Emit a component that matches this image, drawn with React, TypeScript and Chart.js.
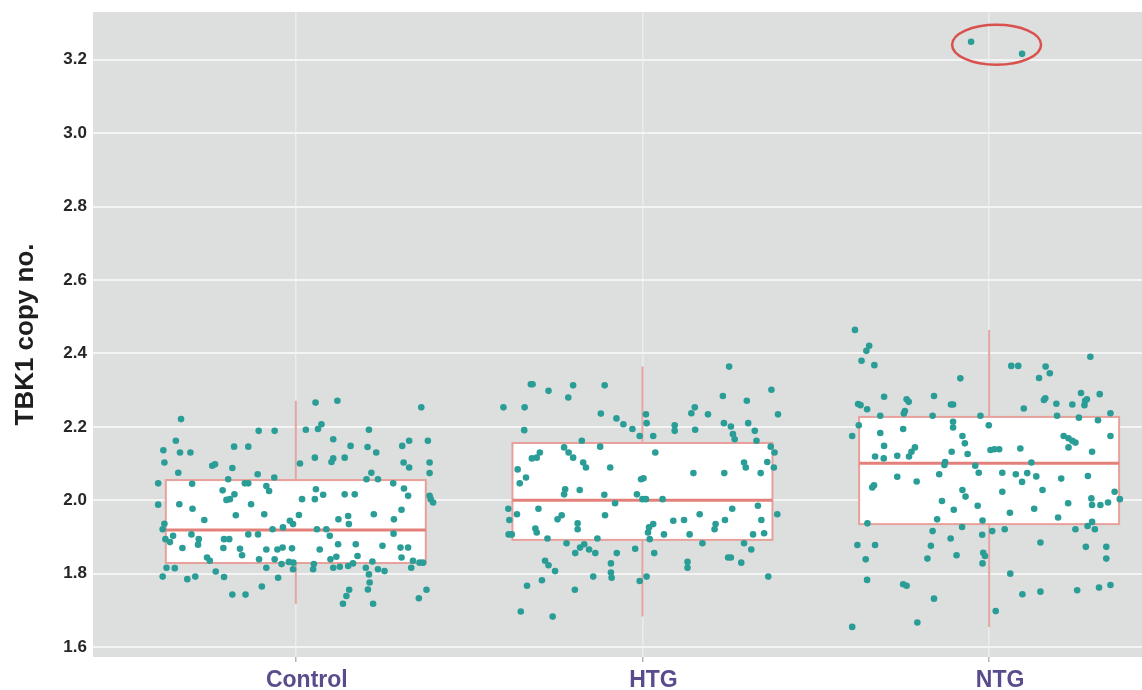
import React, { useEffect, useRef } from "react";
import { Chart, registerables } from "chart.js";

Chart.register(...registerables);

// ---------- data ----------
const CATEGORIES = ["Control", "HTG", "NTG"];
const Y_TICKS = [1.6, 1.8, 2.0, 2.2, 2.4, 2.6, 2.8, 3.0, 3.2];

// box-plot statistics per category
const Q1 = [1.829, 1.892, 1.935];
const MEDIAN = [1.919, 2.0, 2.101];
const Q3 = [2.055, 2.156, 2.227];
const WHISKER_LOW = [1.718, 1.683, 1.655];
const WHISKER_HIGH = [2.271, 2.364, 2.464];

// jittered observations: [horizontal jitter (category units), TBK1 copy no.]
const CONTROL_POINTS: [number, number][] = [
  [-0.331, 2.221], [-0.397, 2.046], [-0.397, 1.988], [-0.382, 2.136], [-0.379, 2.103], [-0.346, 2.162],
  [-0.334, 2.13], [-0.304, 2.13], [-0.339, 2.075], [-0.384, 1.921], [-0.379, 1.936], [-0.376, 1.894],
  [-0.363, 1.886], [-0.354, 1.903], [-0.373, 1.816], [-0.349, 1.815], [-0.384, 1.792], [-0.336, 1.989],
  [-0.298, 1.977], [-0.299, 2.045], [-0.327, 1.87], [-0.313, 1.785], [-0.29, 1.792], [-0.301, 1.907],
  [-0.28, 1.894], [-0.282, 1.879], [-0.264, 1.946], [-0.256, 1.844], [-0.248, 1.835], [-0.231, 1.806],
  [-0.207, 1.791], [-0.241, 2.094], [-0.233, 2.098], [-0.211, 2.027], [-0.2, 2.001], [-0.19, 2.003],
  [-0.183, 2.088], [-0.195, 2.057], [-0.177, 2.016], [-0.173, 1.959], [-0.207, 1.894], [-0.192, 1.894],
  [-0.209, 1.87], [-0.178, 2.146], [-0.137, 2.146], [-0.147, 2.046], [-0.137, 2.046], [-0.161, 1.868],
  [-0.155, 1.85], [-0.129, 1.989], [-0.137, 1.907], [-0.109, 1.907], [-0.183, 1.743], [-0.145, 1.743],
  [-0.107, 2.189], [-0.061, 2.189], [-0.11, 2.071], [-0.085, 2.039], [-0.077, 2.025], [-0.091, 1.962],
  [-0.085, 1.866], [-0.106, 1.839], [-0.085, 1.816], [-0.098, 1.765], [-0.062, 2.062], [-0.067, 1.921],
  [-0.061, 1.839], [-0.051, 1.789], [-0.053, 1.866], [-0.038, 1.871], [-0.037, 1.926], [-0.041, 1.826],
  [-0.02, 1.832], [-0.008, 1.935], [-0.017, 1.944], [-0.011, 1.869], [-0.007, 1.83], [-0.008, 1.812],
  [0.012, 2.1], [0.009, 1.96], [0.018, 2.003], [0.029, 2.192], [0.057, 2.266], [0.064, 2.194],
  [0.074, 2.207], [0.055, 2.116], [0.058, 2.03], [0.055, 2.003], [0.079, 2.015], [0.05, 1.812],
  [0.061, 1.921], [0.069, 1.866], [0.052, 1.826], [0.088, 1.921], [0.098, 1.903], [0.108, 2.166],
  [0.108, 2.114], [0.103, 2.104], [0.12, 2.271], [0.1, 1.839], [0.108, 1.816], [0.117, 1.846],
  [0.122, 1.88], [0.127, 1.819], [0.123, 1.948], [0.136, 1.718], [0.146, 1.739], [0.154, 1.756],
  [0.141, 2.016], [0.17, 2.016], [0.151, 1.957], [0.153, 1.935], [0.158, 2.148], [0.141, 2.116],
  [0.151, 1.821], [0.165, 1.828], [0.173, 1.88], [0.178, 1.848], [0.207, 2.145], [0.211, 2.192],
  [0.232, 2.13], [0.204, 2.057], [0.218, 2.075], [0.237, 2.057], [0.225, 1.962], [0.202, 1.816],
  [0.211, 1.798], [0.208, 1.757], [0.213, 1.776], [0.223, 1.718], [0.221, 1.833], [0.237, 1.812],
  [0.25, 1.876], [0.256, 1.807], [0.283, 1.948], [0.281, 2.046], [0.282, 1.909], [0.305, 1.974],
  [0.312, 2.032], [0.324, 2.012], [0.307, 2.148], [0.327, 2.162], [0.311, 2.103], [0.327, 2.089],
  [0.302, 1.871], [0.324, 1.871], [0.305, 1.844], [0.333, 1.816], [0.338, 1.835], [0.357, 1.83],
  [0.367, 1.83], [0.355, 1.733], [0.377, 1.756], [0.362, 2.253], [0.381, 2.162], [0.386, 2.103],
  [0.386, 2.074], [0.386, 2.012], [0.396, 1.994], [0.389, 2.003],
];

const HTG_POINTS: [number, number][] = [
  [0.25, 2.364], [0.372, 2.301], [0.232, 2.284], [0.301, 2.271], [0.391, 2.234], [-0.322, 2.316],
  [-0.317, 2.316], [-0.271, 2.298], [-0.2, 2.313], [-0.214, 2.28], [-0.109, 2.313], [-0.401, 2.253],
  [-0.34, 2.253], [-0.341, 2.191], [-0.12, 2.236], [-0.075, 2.223], [-0.055, 2.207], [-0.029, 2.194],
  [-0.008, 2.175], [0.01, 2.234], [0.012, 2.21], [0.031, 2.175], [0.093, 2.204], [0.093, 2.189],
  [0.141, 2.237], [0.151, 2.253], [0.189, 2.234], [0.152, 2.192], [0.235, 2.21], [0.255, 2.201],
  [0.261, 2.18], [0.266, 2.166], [0.305, 2.21], [0.324, 2.189], [0.329, 2.162], [-0.226, 2.144],
  [-0.213, 2.13], [-0.2, 2.116], [-0.175, 2.162], [-0.122, 2.146], [-0.319, 2.114], [-0.305, 2.116],
  [-0.296, 2.13], [-0.36, 2.084], [-0.354, 2.046], [-0.336, 2.062], [-0.223, 2.03], [-0.226, 2.016],
  [-0.181, 2.028], [-0.171, 2.103], [-0.163, 2.089], [-0.093, 2.089], [-0.11, 2.015], [-0.079, 1.992],
  [-0.016, 2.016], [-0.004, 2.057], [0.003, 2.06], [0.0, 2.003], [0.01, 2.003], [0.037, 2.13],
  [0.058, 2.003], [0.147, 2.074], [0.236, 2.074], [0.293, 2.103], [0.298, 2.089], [0.341, 2.074],
  [0.37, 2.146], [0.381, 2.13], [0.36, 2.104], [0.379, 2.089], [0.389, 1.962], [0.333, 1.985],
  [0.343, 1.946], [0.351, 1.91], [0.319, 1.907], [0.259, 1.977], [0.238, 1.946], [0.211, 1.935],
  [0.208, 1.921], [0.165, 1.962], [0.136, 1.907], [0.12, 1.946], [0.089, 1.944], [0.062, 1.907],
  [-0.387, 1.977], [-0.384, 1.946], [-0.386, 1.907], [-0.377, 1.907], [-0.362, 1.962], [-0.3, 1.977],
  [-0.309, 1.923], [-0.305, 1.912], [-0.274, 1.896], [-0.245, 1.948], [-0.233, 1.959], [-0.187, 1.937],
  [-0.187, 1.921], [-0.108, 1.959], [-0.13, 1.896], [0.019, 1.926], [0.016, 1.912], [0.021, 1.894],
  [0.031, 1.935], [-0.219, 1.883], [-0.194, 1.856], [-0.18, 1.871], [-0.168, 1.88], [-0.154, 1.866],
  [-0.136, 1.856], [-0.074, 1.856], [-0.021, 1.868], [0.034, 1.856], [0.173, 1.883], [0.293, 1.883],
  [0.314, 1.866], [0.247, 1.844], [0.255, 1.844], [0.285, 1.83], [0.13, 1.832], [0.13, 1.816],
  [-0.281, 1.835], [-0.271, 1.823], [-0.252, 1.807], [-0.29, 1.782], [-0.333, 1.767], [-0.195, 1.756],
  [-0.142, 1.792], [-0.091, 1.828], [-0.091, 1.803], [-0.089, 1.789], [-0.008, 1.78], [0.012, 1.792],
  [0.363, 1.792], [-0.351, 1.697], [-0.259, 1.683],
];

const NTG_POINTS: [number, number][] = [
  [-0.387, 2.464], [-0.346, 2.421], [-0.354, 2.407], [-0.368, 2.38], [-0.331, 2.368], [-0.378, 2.262],
  [-0.371, 2.259], [-0.352, 2.248], [-0.376, 2.204], [-0.395, 2.175], [-0.303, 2.282], [-0.314, 2.23],
  [-0.314, 2.183], [-0.303, 2.148], [-0.329, 2.119], [-0.304, 2.114], [-0.265, 2.121], [-0.248, 2.194],
  [-0.238, 2.275], [-0.232, 2.268], [-0.243, 2.243], [-0.246, 2.236], [-0.231, 2.119], [-0.224, 2.132],
  [-0.214, 2.144], [-0.159, 2.284], [-0.163, 2.23], [-0.11, 2.261], [-0.104, 2.261], [-0.083, 2.332],
  [-0.104, 2.214], [-0.104, 2.198], [-0.077, 2.175], [-0.07, 2.155], [-0.108, 2.132], [-0.062, 2.126],
  [-0.127, 2.104], [-0.129, 2.096], [-0.025, 2.23], [-0.001, 2.204], [0.064, 2.366], [0.084, 2.366],
  [0.163, 2.364], [0.175, 2.346], [0.144, 2.333], [0.292, 2.391], [0.1, 2.25], [0.158, 2.273],
  [0.162, 2.278], [0.194, 2.263], [0.24, 2.261], [0.265, 2.292], [0.277, 2.271], [0.282, 2.275],
  [0.275, 2.259], [0.319, 2.289], [0.35, 2.237], [0.196, 2.23], [0.259, 2.225], [0.314, 2.218],
  [0.004, 2.137], [0.015, 2.139], [0.029, 2.139], [0.09, 2.141], [0.122, 2.103], [0.215, 2.175],
  [0.229, 2.169], [0.24, 2.162], [0.249, 2.157], [0.229, 2.144], [0.297, 2.132], [0.35, 2.175],
  [-0.265, 2.064], [-0.209, 2.051], [-0.144, 2.071], [-0.136, 1.998], [-0.102, 1.974], [-0.077, 2.028],
  [-0.068, 2.01], [-0.04, 2.094], [-0.03, 2.075], [-0.033, 1.985], [-0.019, 1.945], [0.038, 2.075],
  [0.077, 2.071], [0.095, 2.05], [0.11, 2.074], [0.136, 2.065], [0.038, 2.023], [0.06, 1.966],
  [0.13, 1.977], [0.154, 2.028], [0.208, 2.059], [0.228, 1.992], [0.285, 2.066], [0.295, 2.005],
  [0.297, 1.987], [0.321, 1.987], [0.343, 1.994], [0.362, 2.023], [0.377, 2.003], [0.199, 1.953],
  [-0.337, 2.035], [-0.332, 2.041], [-0.15, 1.948], [-0.351, 1.937], [-0.163, 1.916], [-0.111, 1.896],
  [-0.078, 1.927], [-0.02, 1.906], [0.009, 1.916], [0.045, 1.921], [0.249, 1.921], [0.284, 1.93],
  [0.297, 1.941], [0.305, 1.921], [0.148, 1.885], [0.279, 1.873], [0.338, 1.873], [0.338, 1.841],
  [-0.38, 1.878], [-0.329, 1.878], [-0.356, 1.839], [-0.168, 1.876], [-0.178, 1.841], [-0.094, 1.85],
  [-0.017, 1.857], [-0.012, 1.848], [-0.019, 1.828], [-0.352, 1.783], [-0.248, 1.771], [-0.238, 1.767],
  [-0.159, 1.732], [0.061, 1.8], [0.096, 1.744], [0.148, 1.751], [0.254, 1.755], [0.317, 1.762],
  [0.35, 1.769], [-0.395, 1.655], [-0.207, 1.667], [0.019, 1.698],
];

// highlighted outliers in NTG
const NTG_OUTLIERS: [number, number][] = [
  [-0.052, 3.249],
  [0.095, 3.216],
];

const GROUP_POINTS = [CONTROL_POINTS, HTG_POINTS, NTG_POINTS];

// ---------- styling ----------
const FONT = "'Liberation Sans', Arial, sans-serif";
const PANEL_BG = "#dcdfde";
const POINT_COLOR = "#2a9d97";
const BOX_EDGE = "#e8a09b";
const MEDIAN_COLOR = "#e3807a";
const WHISKER_COLOR = "#e3a6a2";
const BOX_WIDTH = 0.75;

const boxPlugin = {
  id: "boxplotLayer",
  beforeDraw(chart: any) {
    const { ctx, chartArea: a } = chart;
    ctx.save();
    ctx.fillStyle = PANEL_BG;
    ctx.fillRect(a.left, a.top, a.right - a.left, a.bottom - a.top);
    ctx.restore();
  },
  beforeDatasetsDraw(chart: any) {
    const { ctx } = chart;
    const xs = chart.scales.x;
    const ys = chart.scales.y;
    ctx.save();
    CATEGORIES.forEach((_, i) => {
      const c = i + 1;
      const cx = xs.getPixelForValue(c);
      const l = xs.getPixelForValue(c - BOX_WIDTH / 2);
      const r = xs.getPixelForValue(c + BOX_WIDTH / 2);
      const yq1 = ys.getPixelForValue(Q1[i]);
      const yq3 = ys.getPixelForValue(Q3[i]);
      const ymed = ys.getPixelForValue(MEDIAN[i]);
      const ylo = ys.getPixelForValue(WHISKER_LOW[i]);
      const yhi = ys.getPixelForValue(WHISKER_HIGH[i]);
      // whiskers
      ctx.strokeStyle = WHISKER_COLOR;
      ctx.lineWidth = 2;
      ctx.beginPath();
      ctx.moveTo(cx, yq3);
      ctx.lineTo(cx, yhi);
      ctx.moveTo(cx, yq1);
      ctx.lineTo(cx, ylo);
      ctx.stroke();
      // box
      ctx.fillStyle = "#ffffff";
      ctx.fillRect(l, yq3, r - l, yq1 - yq3);
      ctx.strokeStyle = BOX_EDGE;
      ctx.lineWidth = 2;
      ctx.strokeRect(l, yq3, r - l, yq1 - yq3);
      // median
      ctx.strokeStyle = MEDIAN_COLOR;
      ctx.lineWidth = 3;
      ctx.beginPath();
      ctx.moveTo(l, ymed);
      ctx.lineTo(r, ymed);
      ctx.stroke();
    });
    ctx.restore();
  },
  afterDatasetsDraw(chart: any) {
    const { ctx } = chart;
    const xs = chart.scales.x;
    const ys = chart.scales.y;
    const px = NTG_OUTLIERS.map((p) => xs.getPixelForValue(3 + p[0]));
    const py = NTG_OUTLIERS.map((p) => ys.getPixelForValue(p[1]));
    const cx = px.reduce((s, v) => s + v, 0) / px.length;
    const cy = py.reduce((s, v) => s + v, 0) / py.length - 3;
    ctx.save();
    ctx.strokeStyle = "#d9504c";
    ctx.lineWidth = 2.5;
    ctx.beginPath();
    ctx.ellipse(cx, cy, 44.5, 20, 0, 0, Math.PI * 2);
    ctx.stroke();
    ctx.restore();
  },
};

export default function App() {
  const ref = useRef<HTMLCanvasElement | null>(null);

  useEffect(() => {
    if (!ref.current) return;
    const datasets = GROUP_POINTS.map((pts, i) => ({
      label: CATEGORIES[i],
      data: pts.map(([j, v]) => ({ x: i + 1 + j, y: v })),
      backgroundColor: POINT_COLOR,
      borderWidth: 0,
      pointRadius: 3.3,
      pointHoverRadius: 3.3,
    }));
    datasets.push({
      label: "NTG outliers",
      data: NTG_OUTLIERS.map(([j, v]) => ({ x: 3 + j, y: v })),
      backgroundColor: POINT_COLOR,
      borderWidth: 0,
      pointRadius: 3.3,
      pointHoverRadius: 3.3,
    });

    const chart = new Chart(ref.current, {
      type: "scatter",
      data: { datasets },
      plugins: [boxPlugin],
      options: {
        animation: false,
        responsive: false,
        devicePixelRatio: 1,
        layout: { autoPadding: false, padding: { top: 12, right: 0, left: 0, bottom: 0 } },
        plugins: { legend: { display: false }, tooltip: { enabled: false } },
        scales: {
          x: {
            type: "linear",
            min: 0.415,
            max: 3.441,
            afterBuildTicks: (s: any) => {
              s.ticks = CATEGORIES.map((_, i) => ({ value: i + 1 }));
            },
            afterFit: (s: any) => {
              s.height = 33;
              s.paddingLeft = 0;
              s.paddingRight = 0;
            },
            grid: {
              color: "#ececec",
              lineWidth: 1.5,
              drawTicks: true,
              tickLength: 5,
              tickColor: "#b5b5b5",
            },
            border: { display: false },
            ticks: {
              callback: (v: any) => CATEGORIES[Math.round(v) - 1] ?? "",
              color: "#594b8c",
              font: { family: FONT, size: 23, weight: "bold" },
              padding: 5,
              labelOffset: 11,
              maxRotation: 0,
              autoSkip: false,
            },
          },
          y: {
            type: "linear",
            min: 1.573,
            max: 3.33,
            afterBuildTicks: (s: any) => {
              s.ticks = Y_TICKS.map((v) => ({ value: v }));
            },
            afterFit: (s: any) => {
              s.width = 93;
              s.paddingTop = 0;
              s.paddingBottom = 0;
            },
            grid: { color: "#f4f4f4", lineWidth: 2, drawTicks: false },
            border: { display: false },
            ticks: {
              callback: (v: any) => Number(v).toFixed(1),
              color: "#262626",
              font: { family: FONT, size: 17, weight: "bold" },
              padding: 6,
            },
            title: {
              display: true,
              text: "TBK1 copy no.",
              color: "#1e1e1e",
              font: { family: FONT, size: 26, weight: "bold", lineHeight: 1.2 },
              padding: { top: 10, bottom: 0 },
            },
          },
        },
      },
    } as any);
    return () => chart.destroy();
  }, []);

  return (
    <div style={{ position: "fixed", left: 0, top: 0, width: 1142, height: 690, background: "#ffffff" }}>
      <canvas ref={ref} width={1142} height={690} style={{ display: "block" }} />
    </div>
  );
}
